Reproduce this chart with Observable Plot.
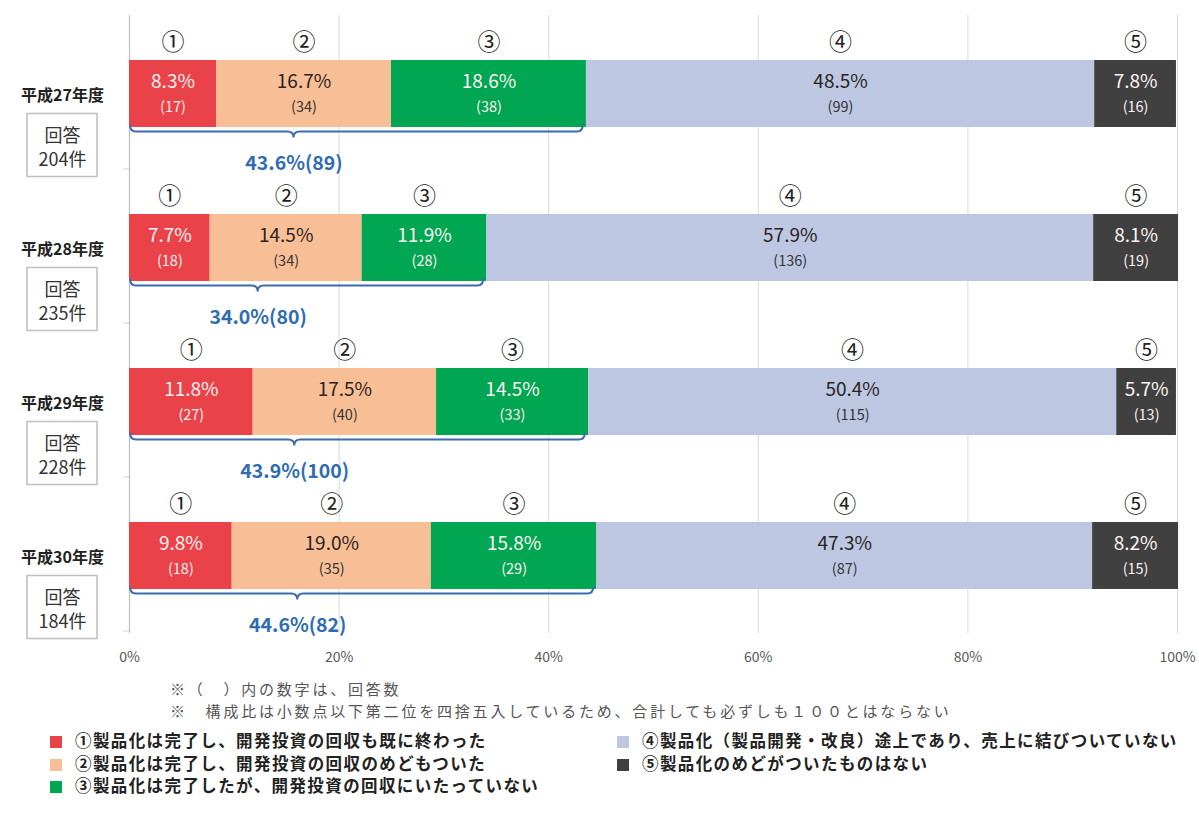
<!DOCTYPE html>
<html><head><meta charset="utf-8">
<script src="https://cdn.jsdelivr.net/npm/d3@7"></script>
<script src="https://cdn.jsdelivr.net/npm/@observablehq/plot@0.6"></script>
<style>
body{margin:0;background:#fff;font-family:"Noto Sans CJK JP","Noto Sans",sans-serif;}
#wrap{position:relative;width:1199px;height:821px;overflow:hidden;}
#chart{position:absolute;left:0;top:0;}
.note{position:absolute;left:170px;font-size:15px;color:#555;letter-spacing:2.8px;line-height:22px;white-space:nowrap}
.leg{position:absolute;font-size:16.5px;font-weight:bold;color:#222;line-height:22.5px;white-space:nowrap;letter-spacing:1.4px}
.sw{display:inline-block;width:12px;height:12px;margin-right:13px;vertical-align:-1px}
</style></head>
<body>
<div id="wrap">
  <div id="chart"></div>
  <div class="note" id="notes" style="top:678px"></div>
  <div class="leg" id="legL" style="left:50px;top:729px"></div>
  <div class="leg" id="legR" style="left:617px;top:729px"></div>
</div>
<script>
const years = ["平成27年度", "平成28年度", "平成29年度", "平成30年度"];
const respondents = [204, 235, 228, 184];
const categories = ["①", "②", "③", "④", "⑤"];
const categoryLabels = [
  "①製品化は完了し、開発投資の回収も既に終わった",
  "②製品化は完了し、開発投資の回収のめどもついた",
  "③製品化は完了したが、開発投資の回収にいたっていない",
  "④製品化（製品開発・改良）途上であり、売上に結びついていない",
  "⑤製品化のめどがついたものはない"
];
const colors = ["#EA4249", "#F8BF97", "#00A651", "#BDC7E2", "#404040"];
const pct = [
  [8.3, 16.7, 18.6, 48.5, 7.8],
  [7.7, 14.5, 11.9, 57.9, 8.1],
  [11.8, 17.5, 14.5, 50.4, 5.7],
  [9.8, 19.0, 15.8, 47.3, 8.2]
];
const counts = [
  [17, 34, 38, 99, 16],
  [18, 34, 28, 136, 19],
  [27, 40, 33, 115, 13],
  [18, 35, 29, 87, 15]
];
const subtotalPct = [43.6, 34.0, 43.9, 44.6];
const subtotalCount = [89, 80, 100, 82];
const xTicks = [0, 20, 40, 60, 80, 100];
const notes = [
  "※（　）内の数字は、回答数",
  "※　構成比は小数点以下第二位を四捨五入しているため、合計しても必ずしも１００とはならない"
];

const rows = years.flatMap((y, i) => categories.map((c, j) => ({year: y, cat: c, value: pct[i][j], count: counts[i][j]})));
const lightText = new Set(["①", "③", "⑤"]);
const first3 = pct.map(r => r[0] + r[1] + r[2]);
const tipFrac = 0.36;
const st = {x: "value", y: "year", order: null};

const plot = Plot.plot({
  width: 1199, height: 678,
  marginLeft: 129, marginRight: 22, marginTop: 15, marginBottom: 45,
  style: {fontFamily: '"Noto Sans CJK JP", "Noto Sans", sans-serif', fontSize: "13px", background: "#fff"},
  x: {domain: [0, 100], label: null},
  y: {domain: years, paddingInner: 0.566, paddingOuter: 0.283, axis: null},
  color: {domain: categories, range: colors},
  marks: [
    Plot.gridX(xTicks.slice(1), {stroke: "#d9d9d9", strokeOpacity: 1}),
    Plot.ruleX([0], {stroke: "#bfbfbf", strokeWidth: 1.2}),
    Plot.axisX(xTicks, {tickSize: 0, tickPadding: 19, label: null, tickFormat: d => d + "%", fontSize: 14, color: "#595959"}),
    Plot.barX(rows, Plot.stackX({...st, fill: "cat"})),
    Plot.text(rows, Plot.stackX({...st, text: d => lightText.has(d.cat) ? d.value.toFixed(1) + "%" : "", fill: "#FFF4F4", fontSize: 19, dy: -12})),
    Plot.text(rows, Plot.stackX({...st, text: d => lightText.has(d.cat) ? "" : d.value.toFixed(1) + "%", fill: "#2A2320", fontSize: 19, dy: -12})),
    Plot.text(rows, Plot.stackX({...st, text: d => lightText.has(d.cat) ? "(" + d.count + ")" : "", fill: "#FFF0F0", fontSize: 14.5, dy: 13})),
    Plot.text(rows, Plot.stackX({...st, text: d => lightText.has(d.cat) ? "" : "(" + d.count + ")", fill: "#333", fontSize: 14.5, dy: 13})),
    Plot.text(rows, Plot.stackX({...st, text: "cat", fill: "#222", fontSize: 23, dy: -51})),
    Plot.text(years, {x: () => 0, y: d => d, text: d => d, dx: -67, dy: 2, fontSize: 16, fontWeight: "bold", fill: "#222"}),
    Plot.text(years, {x: () => 0, y: d => d, text: (d, i) => "回答\n" + respondents[i] + "件", dx: -67, dy: 52, lineHeight: 1.33, fontSize: 18, fill: "#333"}),
    Plot.text(years, {x: (d, i) => first3[i] * tipFrac, y: d => d, text: (d, i) => subtotalPct[i].toFixed(1) + "%(" + subtotalCount[i] + ")", dy: 70, fontSize: 19.5, fontWeight: "bold", fill: "#2E6DB4"})
  ]
});
document.getElementById("chart").appendChild(plot);

// brackets, boxes and category ticks drawn with the plot's own scales
const xs = plot.scale("x"), ys = plot.scale("y");
const X = v => xs.apply(v);
const Yc = v => ys.apply(v) + ys.bandwidth / 2;
const svg = d3.select(plot);
const g = svg.append("g");
years.forEach((yr, i) => {
  const yc = Yc(yr);
  const x0 = X(0) + 1, x1 = X(first3[i] - 0.3), tip = X(first3[i] * tipFrac);
  const yb = yc + 38;
  g.append("path")
    .attr("d", `M${x0},${yb - 7} Q${x0},${yb} ${x0 + 6},${yb} L${tip - 6},${yb} Q${tip},${yb} ${tip},${yb + 6} Q${tip},${yb} ${tip + 6},${yb} L${x1 - 6},${yb} Q${x1},${yb} ${x1},${yb - 7}`)
    .attr("fill", "none").attr("stroke", "#3C6BB0").attr("stroke-width", 2);
  g.append("rect")
    .attr("x", X(0) - 102).attr("y", yc + 20).attr("width", 70).attr("height", 63)
    .attr("fill", "none").attr("stroke", "#bfbfbf").attr("stroke-width", 1.5);
  const ysep = ys.apply(yr) + ys.bandwidth + 42;
  g.append("line")
    .attr("x1", X(0) - 6).attr("x2", X(0)).attr("y1", ysep).attr("y2", ysep)
    .attr("stroke", "#d0d0d0");
});

document.getElementById("notes").innerHTML = notes.map(n => `<div>${n}</div>`).join("");
const legItem = j => `<div><span class="sw" style="background:${colors[j]}"></span>${categoryLabels[j]}</div>`;
document.getElementById("legL").innerHTML = [0, 1, 2].map(legItem).join("");
document.getElementById("legR").innerHTML = [3, 4].map(legItem).join("");
</script>
</body></html>
